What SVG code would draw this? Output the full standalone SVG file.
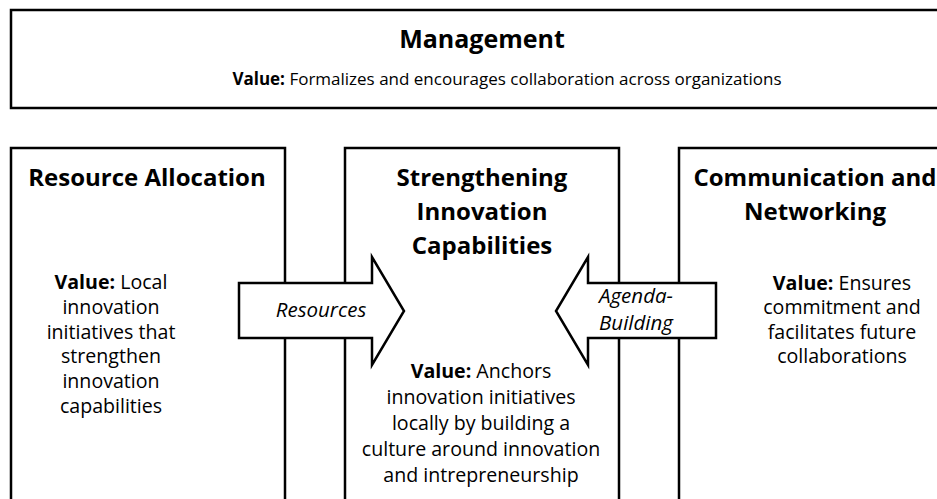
<svg xmlns="http://www.w3.org/2000/svg" width="937" height="499" viewBox="0 0 937 499">
  <style>
    .box { fill: #ffffff; stroke: #000000; stroke-width: 2.5; }
    .arrow { fill: #ffffff; stroke: #000000; stroke-width: 2.5; stroke-linejoin: miter; }
    text { font-family: "Open Sans", "DejaVu Sans", sans-serif; fill: #000000; text-anchor: middle; }
    .title { font-weight: bold; font-size: 24px; }
    .head { font-weight: bold; font-size: 25px; }
    .note { font-size: 17px; }
    .body { font-size: 19.6px; }
    .b { font-weight: bold; }
    .lbl { font-style: italic; font-size: 20.5px; }
  </style>
  <rect width="937" height="499" fill="#ffffff"/>

  <g id="management">
    <rect class="box" x="11" y="10" width="940" height="98"/>
    <text class="head" x="482" y="48">Management</text>
    <text class="note" x="507" y="85"><tspan class="b">Value:</tspan> Formalizes and encourages collaboration across organizations</text>
  </g>

  <g id="resource-allocation">
    <rect class="box" x="11" y="148" width="274" height="370"/>
    <text class="title" x="147" y="186">Resource Allocation</text>
    <text class="body" x="111" y="289"><tspan class="b">Value:</tspan> Local</text>
    <text class="body" x="111" y="314">innovation</text>
    <text class="body" x="111" y="338.5">initiatives that</text>
    <text class="body" x="111" y="363">strengthen</text>
    <text class="body" x="111" y="388">innovation</text>
    <text class="body" x="111" y="412.5">capabilities</text>
  </g>

  <g id="strengthening-innovation">
    <rect class="box" x="345" y="148" width="274" height="370"/>
    <text class="title" x="482" y="186">Strengthening</text>
    <text class="title" x="482" y="220">Innovation</text>
    <text class="title" x="482" y="254">Capabilities</text>
    <text class="body" x="481" y="378"><tspan class="b">Value:</tspan> Anchors</text>
    <text class="body" x="481" y="404">innovation initiatives</text>
    <text class="body" x="481" y="430">locally by building a</text>
    <text class="body" x="481" y="456">culture around innovation</text>
    <text class="body" x="481" y="482">and intrepreneurship</text>
  </g>

  <g id="communication-networking">
    <rect class="box" x="679" y="148" width="300" height="370"/>
    <text class="title" x="815" y="186">Communication and</text>
    <text class="title" x="815" y="220">Networking</text>
    <text class="body" x="842" y="289.5"><tspan class="b">Value:</tspan> Ensures</text>
    <text class="body" x="842" y="314">commitment and</text>
    <text class="body" x="842" y="338.5">facilitates future</text>
    <text class="body" x="842" y="363">collaborations</text>
  </g>

  <g id="connectors">
    <g id="resources-arrow">
      <path class="arrow" d="M239,283 L372,283 L372,257 L404,311 L372,365 L372,338 L239,338 Z"/>
      <text class="lbl" x="321" y="317">Resources</text>
    </g>
    <g id="agenda-building-arrow">
      <path class="arrow" d="M716,283 L588,283 L588,257 L556,311 L588,365 L588,338 L716,338 Z"/>
      <text class="lbl" x="636" y="303">Agenda-</text>
      <text class="lbl" x="636" y="330">Building</text>
    </g>
  </g>
</svg>
